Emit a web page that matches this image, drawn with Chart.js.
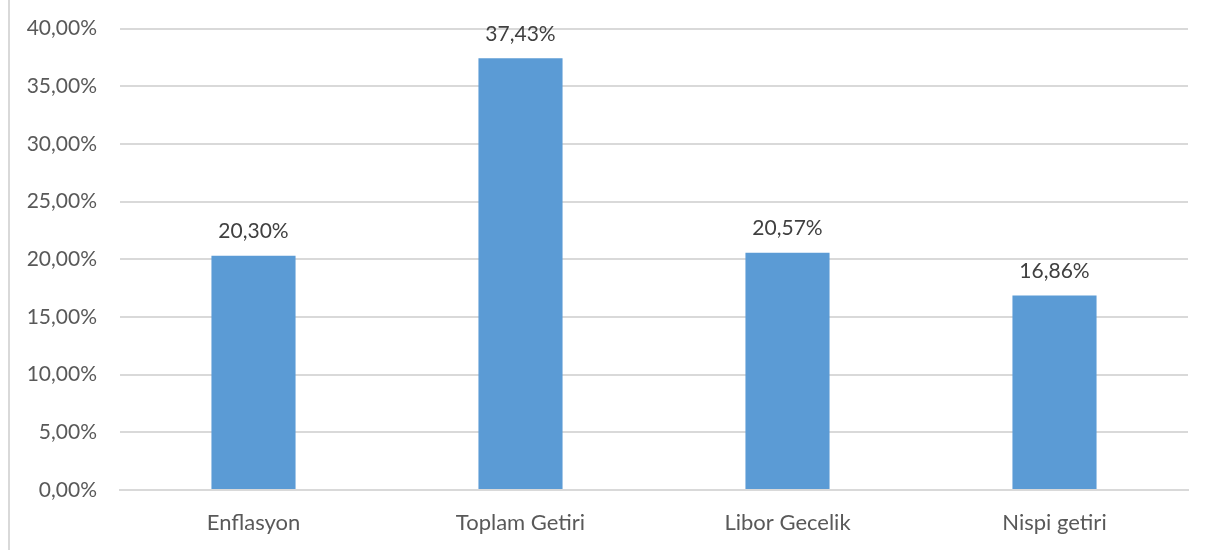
<!DOCTYPE html>
<html>
<head>
<meta charset="utf-8">
<script src="https://cdn.jsdelivr.net/npm/chart.js@4"></script>
<style>
  html, body { margin: 0; padding: 0; background: #fff; overflow: hidden; }
  #wrap { position: relative; width: 1210px; height: 550px; overflow: hidden; }
  #frame { position: absolute; left: 8px; top: 0; bottom: 0; border-left: 2px solid #d9d9d9; }
  #chart { position: absolute; left: 0; top: -7px; }
</style>
</head>
<body>
<div id="wrap">
  <div id="frame"></div>
  <canvas id="chart" width="1210" height="557"></canvas>
</div>
<script>
const categories = ['Enflasyon', 'Toplam Getiri', 'Libor Gecelik', 'Nispi getiri'];
const values = [20.30, 37.43, 20.57, 16.86];
const yMax = 40;
const yStep = 5;

function trPercent(v) {
    return v.toFixed(2).replace('.', ',') + '%';
}

const fontFamily = 'Lato, "Open Sans", sans-serif';

const barLabels = {
    id: 'barLabels',
    afterDatasetsDraw(chart) {
        const ctx = chart.ctx;
        const meta = chart.getDatasetMeta(0);
        ctx.save();
        ctx.font = '21px ' + fontFamily;
        ctx.fillStyle = '#404040';
        ctx.textAlign = 'center';
        ctx.textBaseline = 'bottom';
        meta.data.forEach((bar, i) => {
            ctx.fillText(trPercent(values[i]), bar.x, bar.y - 14);
        });
        ctx.restore();
    }
};

new Chart(document.getElementById('chart').getContext('2d'), {
    type: 'bar',
    data: {
        labels: categories,
        datasets: [{
            data: values,
            backgroundColor: '#5b9bd5',
            borderWidth: 0,
            barPercentage: 0.315,
            categoryPercentage: 1
        }]
    },
    options: {
        responsive: false,
        animation: false,
        layout: { padding: { top: 17, right: 22, bottom: 0, left: 0 } },
        plugins: {
            legend: { display: false },
            tooltip: { enabled: false }
        },
        scales: {
            x: {
                grid: { display: false, drawTicks: false },
                border: { display: true, color: '#d9d9d9', width: 2 },
                ticks: {
                    color: '#595959',
                    padding: 20,
                    font: { family: fontFamily, size: 22 }
                },
                afterFit(axis) { axis.height = 60; }
            },
            y: {
                min: 0,
                max: yMax,
                grid: { color: '#d9d9d9', lineWidth: 2, drawTicks: false },
                border: { display: false },
                ticks: {
                    stepSize: yStep,
                    color: '#595959',
                    padding: 23,
                    font: { family: fontFamily, size: 21 },
                    callback: (v) => trPercent(v)
                },
                afterFit(axis) { axis.width = 120; }
            }
        }
    },
    plugins: [barLabels]
});
</script>
</body>
</html>
